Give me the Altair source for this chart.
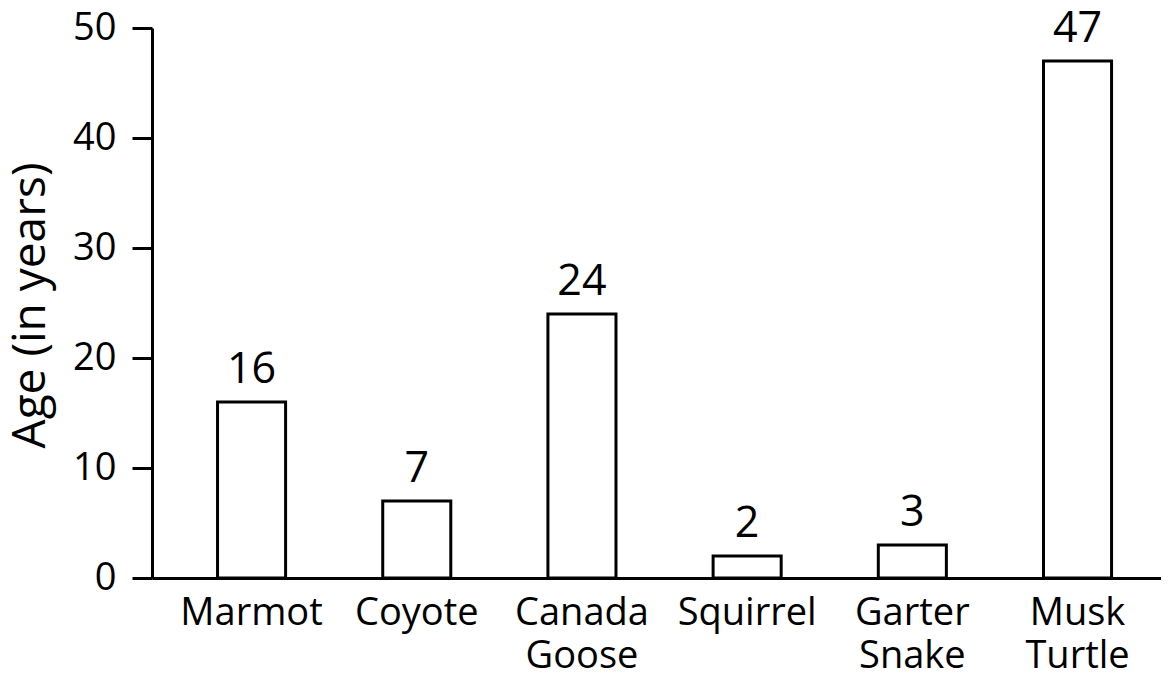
import altair as alt
import pandas as pd

animals = ["Marmot", "Coyote", "Canada Goose", "Squirrel", "Garter Snake", "Musk Turtle"]
ages = [16, 7, 24, 2, 3, 47]

df = pd.DataFrame({"animal": animals, "age": ages})

FONT = "Open Sans"

x = alt.X(
    "animal:N",
    sort=animals,
    title=None,
    scale=alt.Scale(paddingInner=0.588, paddingOuter=0.348, align=0.57),
    axis=alt.Axis(
        labelAngle=0,
        labelExpr="split(datum.label, ' ')",
        labelFont=FONT,
        labelFontSize=38,
        labelColor="black",
        labelLineHeight=43,
        labelPadding=16,
        ticks=False,
        domainColor="black",
        domainWidth=3,
        grid=False,
    ),
)

y = alt.Y(
    "age:Q",
    scale=alt.Scale(domain=[0, 50], nice=False),
    axis=alt.Axis(
        title="Age (in years)",
        titleFont=FONT,
        titleFontSize=46,
        titleFontWeight="normal",
        titleColor="black",
        titleX=-122,
        titleY=277,
        titleAngle=270,
        titleBaseline="middle",
        titleAlign="center",
        values=[0, 10, 20, 30, 40, 50],
        labelFont=FONT,
        labelFontSize=38,
        labelColor="black",
        labelPadding=16,
        tickSize=20,
        tickWidth=3,
        tickColor="black",
        domainColor="black",
        domainWidth=3,
        grid=False,
    ),
)

bars = alt.Chart(df).mark_bar(
    fill="white", stroke="black", strokeWidth=3
).encode(x=x, y=y)

labels = alt.Chart(df).mark_text(
    font=FONT, fontSize=43, color="black", baseline="alphabetic", dy=-19
).encode(x=x, y=y, text="age:Q")

chart = (
    alt.layer(bars, labels)
    .properties(
        width=1009,
        height=550,
        background="white",
        autosize=alt.AutoSizeParams(type="none"),
        padding={"left": 144, "top": 20, "right": 0, "bottom": 110},
    )
    .configure_view(strokeWidth=0, stroke="transparent")
)

chart.save("out.html", embed_options={"renderer": "svg", "actions": False})
